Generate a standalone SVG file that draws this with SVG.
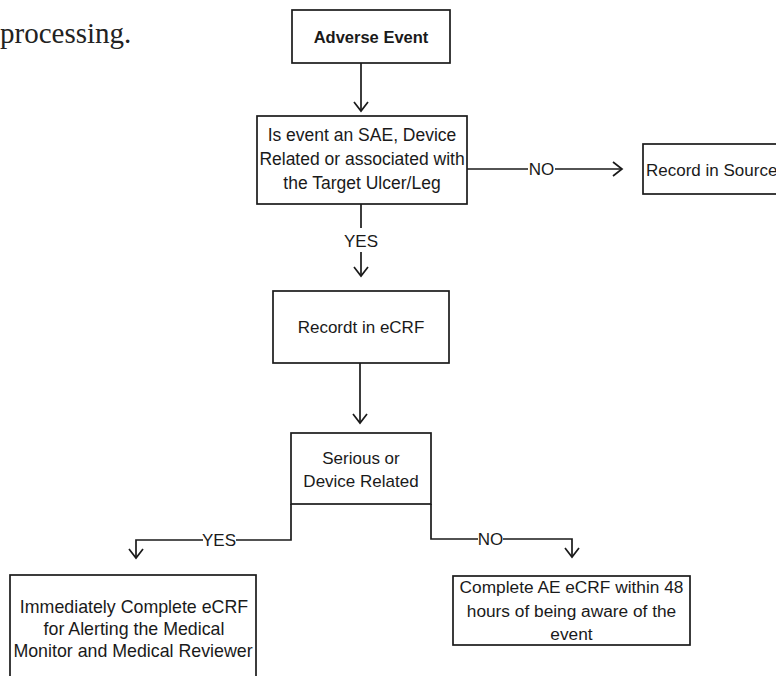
<svg xmlns="http://www.w3.org/2000/svg" width="776" height="676" viewBox="0 0 776 676">
  <style>
    .box { fill: #ffffff; stroke: #1a1a1a; stroke-width: 1.7; }
    .t { font-family: "Liberation Sans", Arial, sans-serif; font-size: 17.5px; fill: #1a1a1a; text-anchor: middle; }
    .tl { font-family: "Liberation Sans", Arial, sans-serif; font-size: 17px; fill: #1a1a1a; }
    .b { font-weight: bold; font-size: 16.5px; }
    .lbl { font-family: "Liberation Sans", Arial, sans-serif; font-size: 17px; fill: #1a1a1a; text-anchor: middle; }
    .ln { fill: none; stroke: #1a1a1a; stroke-width: 1.7; }
    .ar { fill: none; stroke: #1a1a1a; stroke-width: 1.7; marker-end: url(#chev); }
    .head { font-family: "Liberation Serif", "Times New Roman", serif; font-size: 29px; fill: #222; }
  </style>
  <defs>
    <marker id="chev" viewBox="-11 -9 13 18" refX="0" refY="0" markerWidth="13" markerHeight="18" markerUnits="userSpaceOnUse" orient="auto">
      <path d="M-9,-7 L0,0 L-9,7" fill="none" stroke="#1a1a1a" stroke-width="1.7"/>
    </marker>
  </defs>
  <rect width="776" height="676" fill="#ffffff"/>

  <text class="head" x="0" y="43">processing.</text>

  <g id="connectors">
    <line class="ar" x1="361" y1="63" x2="361" y2="111"/>
    <line class="ln" x1="467" y1="169" x2="528" y2="169"/>
    <text class="lbl" x="541.5" y="175">NO</text>
    <line class="ar" x1="555" y1="169" x2="622" y2="169"/>
    <line class="ln" x1="361" y1="204" x2="361" y2="228"/>
    <text class="lbl" x="361" y="247">YES</text>
    <line class="ar" x1="361" y1="252" x2="361" y2="276"/>
    <line class="ar" x1="360" y1="363" x2="360" y2="423"/>
    <polyline class="ln" points="291,504 291,540 236,540"/>
    <text class="lbl" x="219" y="546">YES</text>
    <polyline class="ar" points="203,540 136,540 136,558"/>
    <polyline class="ln" points="431,504 431,539 478,539"/>
    <text class="lbl" x="490.5" y="545">NO</text>
    <polyline class="ar" points="503,539 572,539 572,557"/>
  </g>

  <g id="adverse-event">
    <rect class="box" x="292" y="10" width="158" height="53"/>
    <text class="t b" x="371" y="43">Adverse Event</text>
  </g>

  <g id="is-sae">
    <rect class="box" x="257" y="116" width="210" height="88"/>
    <text class="t" x="362" y="141">Is event an SAE, Device</text>
    <text class="t" x="362" y="165">Related or associated with</text>
    <text class="t" x="362" y="189">the Target Ulcer/Leg</text>
  </g>

  <g id="record-source">
    <rect class="box" x="643" y="144" width="150" height="50"/>
    <text class="tl" x="646" y="176">Record in Source</text>
  </g>

  <g id="record-ecrf">
    <rect class="box" x="273" y="291" width="176" height="72"/>
    <text class="t" x="361" y="333" style="font-size:17px">Recordt in eCRF</text>
  </g>

  <g id="serious">
    <rect class="box" x="291" y="433" width="140" height="71"/>
    <text class="t" x="361" y="464" style="font-size:17px">Serious or</text>
    <text class="t" x="361" y="487" style="font-size:17px">Device Related</text>
  </g>

  <g id="immediately">
    <rect class="box" x="10" y="575" width="246" height="110"/>
    <text class="t" x="134" y="613" style="font-size:17.8px">Immediately Complete eCRF</text>
    <text class="t" x="134" y="635" style="font-size:17.8px">for Alerting the Medical</text>
    <text class="t" x="133" y="657" style="font-size:17.8px">Monitor and Medical Reviewer</text>
  </g>

  <g id="complete-ae">
    <rect class="box" x="453" y="576" width="237" height="69"/>
    <text class="t" x="571.5" y="593" style="font-size:17.3px">Complete AE eCRF within 48</text>
    <text class="t" x="571.5" y="616.5" style="font-size:17.3px">hours of being aware of the</text>
    <text class="t" x="571.5" y="639.5" style="font-size:17.3px">event</text>
  </g>
</svg>
